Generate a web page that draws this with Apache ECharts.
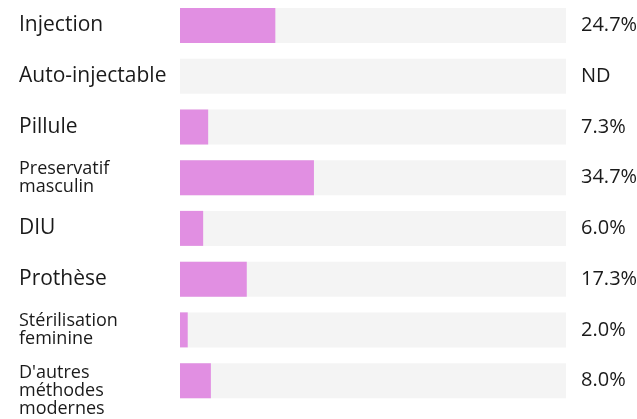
<!DOCTYPE html>
<html>
<head>
<meta charset="utf-8">
<script src="https://cdn.jsdelivr.net/npm/echarts@6/dist/echarts.min.js"></script>
<style>
  html, body { margin: 0; padding: 0; background: #fff; }
  #chart { width: 637px; height: 419px; }
</style>
</head>
<body>
<div id="chart"></div>
<script>
const categories = [
  'Injection',
  'Auto-injectable',
  'Pillule',
  'Preservatif\nmasculin',
  'DIU',
  'Prothèse',
  'Stérilisation\nfeminine',
  "D'autres\nméthodes\nmodernes"
];
// null = ND (no data)
const values = [24.7, null, 7.3, 34.7, 6.0, 17.3, 2.0, 8.0];

const fontFamily = '"Open Sans", Lato, sans-serif';

const formatValue = (v) => (v == null ? 'ND' : v.toFixed(1) + '%');

const chart = echarts.init(document.getElementById('chart'));

chart.setOption({
  animation: false,
  grid: {
    left: 180,
    right: 71,
    top: 0,
    height: 406,
    containLabel: false,
    outerBoundsMode: 'none',
  },
  xAxis: {
    type: 'value',
    min: 0,
    max: 100,
    show: false,
  },
  yAxis: [
    {
      type: 'category',
      inverse: true,
      data: categories,
      axisLine: { show: false },
      axisTick: { show: false },
      axisLabel: {
        align: 'left',
        margin: 161,
        interval: 0,
        showMinLabel: true,
        showMaxLabel: true,
        hideOverlap: false,
        fontFamily: fontFamily,
        formatter: (name) => {
          const lines = name.split('\n');
          if (lines.length === 1) return '{big|' + name + '}';
          const text = lines.map((l) => '{small|' + l + '}').join('\n');
          // 3-line labels sit a bit lower in the original
          return lines.length > 2 ? '{gap| }\n' + text : text;
        },
        rich: {
          big: { fontSize: 21, color: '#1a1a1a', fontFamily: fontFamily },
          small: { fontSize: 18, lineHeight: 18, color: '#1a1a1a', fontFamily: fontFamily },
          gap: { fontSize: 10, lineHeight: 20 },
        },
      },
    },
    {
      type: 'category',
      inverse: true,
      position: 'right',
      data: values.map(formatValue),
      axisLine: { show: false },
      axisTick: { show: false },
      axisLabel: {
        align: 'left',
        margin: 15,
        interval: 0,
        showMinLabel: true,
        showMaxLabel: true,
        fontSize: 20,
        color: '#1a1a1a',
        fontFamily: fontFamily,
      },
    },
  ],
  series: [
    {
      type: 'bar',
      yAxisIndex: 0,
      data: values.map((v) => (v == null ? 0 : v)),
      barWidth: 35,
      showBackground: true,
      backgroundStyle: { color: '#f4f4f4' },
      itemStyle: { color: '#e18fe2' },
      silent: true,
    },
  ],
});
</script>
</body>
</html>
